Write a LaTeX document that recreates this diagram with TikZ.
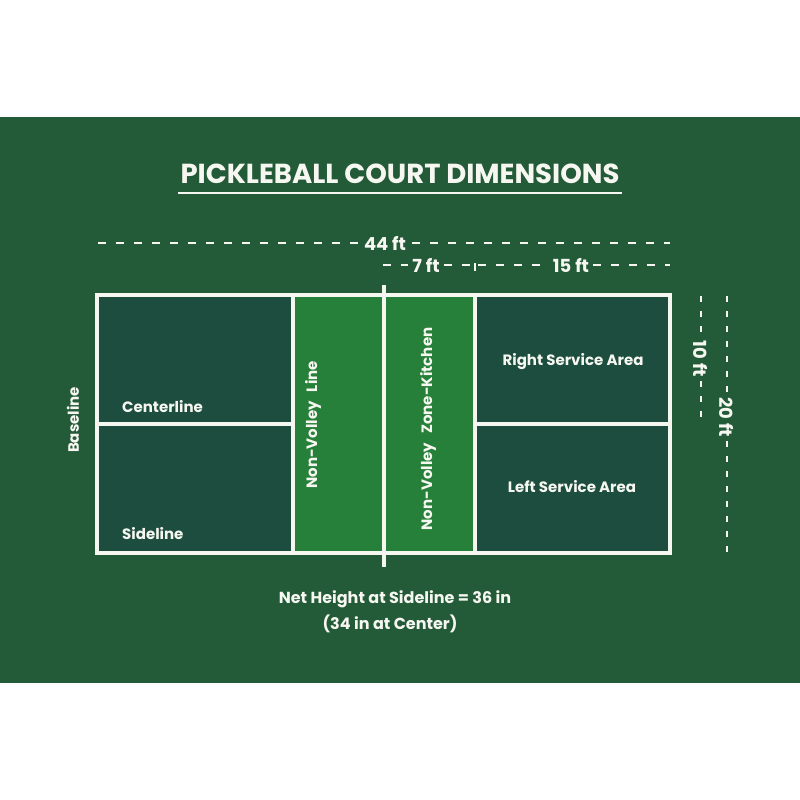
\documentclass[tikz,border=0pt]{standalone}
\usepackage{fontspec}
\setmainfont{Poppins}
\definecolor{bg}{HTML}{235A38}
\definecolor{svc}{HTML}{1C4D3E}
\definecolor{kit}{HTML}{278039}
\definecolor{ink}{HTML}{F7F7F2}
\tikzset{
  court/.style={draw=ink,line width=4.5pt},
  dim/.style={draw=ink,line width=1.6pt,dash pattern=on 8pt off 10pt},
  vdim/.style={draw=ink,line width=1.6pt,dash pattern=on 6pt off 9pt},
  lbl/.style={text=ink,font=\bfseries\fontsize{15}{17}\selectfont,inner sep=0pt},
  dimlbl/.style={text=ink,font=\bfseries\fontsize{18}{20}\selectfont,inner sep=0pt},
}
\begin{document}
\begin{tikzpicture}[x=1pt,y=-1pt]
\useasboundingbox (0,0) rectangle (800,800);
\fill[white] (0,0) rectangle (800,800);
\fill[bg] (0,117) rectangle (800,683);
% title
\node[text=ink,font=\bfseries\fontsize{27.5}{30}\selectfont,inner sep=0pt] (title) at (400,174) {PICKLEBALL COURT DIMENSIONS};
\draw[ink,line width=2.5pt] (178,193) -- (622,193);
% court fills
\fill[svc] (97,295) rectangle (293,553);
\fill[svc] (475,295) rectangle (670,553);
\fill[kit] (293,295) rectangle (475,553);
% court lines
\draw[court] (97,295) rectangle (670,553);
\draw[court] (293,295) -- (293,553);
\draw[court] (475,295) -- (475,553);
\draw[court] (97,424) -- (293,424);
\draw[court] (475,424) -- (670,424);
\draw[court] (384,285) -- (384,567);
% dimensions top
\node[dimlbl] (d44) at (385,243) {44 ft};
\draw[dim,shorten >=5pt] (98,243) -- (d44.west);
\draw[dim,shorten <=6pt] (d44.east) -- (670,243);
\node[dimlbl] (d7) at (426,265) {7 ft};
\node[dimlbl] (d15) at (571,265) {15 ft};
\coordinate (t7s) at (383,265);
\coordinate (tick) at (475,265);
\coordinate (t15e) at (670,265);
\draw[dim,shorten >=4pt] (t7s) -- (d7.west);
\draw[dim,shorten <=4pt,shorten >=3pt] (d7.east) -- (tick);
\draw[ink,line width=1.6pt] (475,263) -- (475,271);
\draw[dim,shorten <=3pt,shorten >=4pt] (tick) -- (d15.west);
\draw[dim,shorten <=4pt] (d15.east) -- (t15e);
% dimensions right
\node[dimlbl,rotate=-90] (d10) at (701,359) {10 ft};
\node[dimlbl,rotate=-90] (d20) at (727,417) {20 ft};
\draw[vdim,shorten >=4pt] (701,296) -- (d10.west);
\draw[vdim,shorten <=4pt] (d10.east) -- (701,423);
\draw[vdim,shorten >=4pt] (727,296) -- (d20.west);
\draw[vdim,shorten <=4pt] (d20.east) -- (727,553);
% labels
\node[lbl,rotate=90] (base) at (73,420) {Baseline};
\node[lbl,anchor=west] (cl) at (122,407) {Centerline};
\node[lbl,anchor=west] (sl) at (122,534) {Sideline};
\node[lbl,rotate=90] (nvl) at (313,425) {Non-Volley\hspace{0.6em}Line};
\node[lbl,rotate=90] (nvz) at (428,429) {Non-Volley\hspace{0.6em}Zone-Kitchen};
\node[lbl] (rsa) at (573,362) {Right Service Area};
\node[lbl] (lsa) at (572,487) {Left Service Area};
\node[lbl,font=\bfseries\fontsize{16}{18}\selectfont] (net1) at (395,599) {Net Height at Sideline = 36 in};
\node[lbl,font=\bfseries\fontsize{16}{18}\selectfont] (net2) at (390,624) {(34 in at Center)};
\end{tikzpicture}
\end{document}
